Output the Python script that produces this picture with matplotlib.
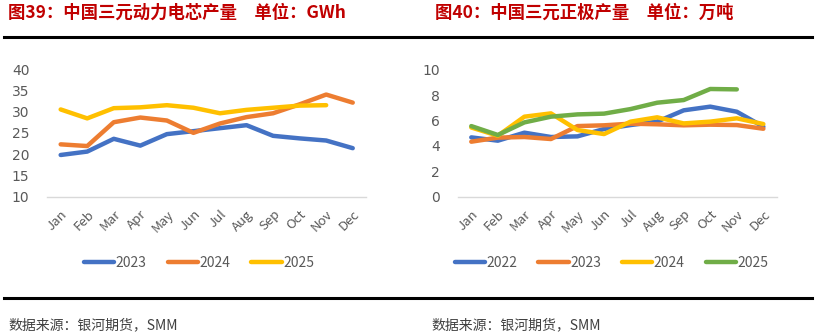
import matplotlib.pyplot as plt
from matplotlib.lines import Line2D

plt.rcParams['font.family'] = ['Noto Sans CJK SC', 'DejaVu Sans']

months = ['Jan', 'Feb', 'Mar', 'Apr', 'May', 'Jun', 'Jul', 'Aug', 'Sep', 'Oct', 'Nov', 'Dec']

# 三元动力电芯产量 (GWh)
cell_2023 = [19.8, 20.6, 23.6, 22.0, 24.7, 25.4, 26.1, 26.8, 24.3, 23.7, 23.2, 21.4]
cell_2024 = [22.3, 21.9, 27.5, 28.6, 27.9, 25.0, 27.2, 28.7, 29.6, 31.7, 34.0, 32.1]
cell_2025 = [30.5, 28.4, 30.8, 31.0, 31.5, 30.9, 29.6, 30.4, 30.9, 31.4, 31.5]

# 三元正极产量 (万吨)
cath_2022 = [4.67, 4.41, 5.04, 4.70, 4.75, 5.33, 5.64, 5.91, 6.80, 7.09, 6.69, 5.51]
cath_2023 = [4.33, 4.65, 4.70, 4.54, 5.56, 5.62, 5.75, 5.70, 5.62, 5.67, 5.64, 5.35]
cath_2024 = [5.45, 4.80, 6.30, 6.56, 5.25, 4.93, 5.91, 6.25, 5.77, 5.91, 6.17, 5.72]
cath_2025 = [5.56, 4.86, 5.85, 6.30, 6.48, 6.54, 6.90, 7.40, 7.61, 8.48, 8.45]

BLUE, ORANGE, YELLOW, GREEN = '#4472C4', '#ED7D31', '#FFC000', '#70AD47'
RED = '#C00000'
TICK = '#595959'

fig = plt.figure(figsize=(8.17, 3.36), dpi=100)


def draw_panel(ax, series, ylim, yticks):
    for label, values, color in series:
        ax.plot(range(len(values)), values, color=color, lw=3.2,
                solid_capstyle='round', solid_joinstyle='round', label=label)
    ax.set_xlim(-0.5, 11.5)
    ax.set_ylim(*ylim)
    ax.set_yticks(yticks)
    ax.set_xticks(range(12))
    ax.set_xticklabels(months, rotation=45, ha='right', va='top',
                       rotation_mode='anchor', fontsize=9.5, color=TICK)
    for s in ['top', 'right', 'left']:
        ax.spines[s].set_visible(False)
    ax.spines['bottom'].set_color('#D9D9D9')
    ax.spines['bottom'].set_linewidth(1.0)
    ax.tick_params(axis='both', length=0)
    ax.tick_params(axis='y', pad=13, labelsize=10, labelcolor=TICK)
    ax.tick_params(axis='x', pad=8)
    for t in ax.get_yticklabels():
        t.set_family('DejaVu Sans')


ax1 = fig.add_axes([0.058, 0.4146, 0.390, 0.380])
draw_panel(ax1, [('2023', cell_2023, BLUE), ('2024', cell_2024, ORANGE),
                 ('2025', cell_2025, YELLOW)],
           (10, 40), range(10, 41, 5))

ax2 = fig.add_axes([0.5606, 0.4146, 0.390, 0.378])
draw_panel(ax2, [('2022', cath_2022, BLUE), ('2023', cath_2023, ORANGE),
                 ('2024', cath_2024, YELLOW), ('2025', cath_2025, GREEN)],
           (0, 10), range(0, 11, 2))

for ax, cx in [(ax1, 0.2436), (ax2, 0.7485)]:
    h, l = ax.get_legend_handles_labels()
    fig.legend(h, l, loc='center', bbox_to_anchor=(cx, 0.217), ncol=len(l),
               frameon=False, fontsize=10, handlelength=2.2, handletextpad=0.1,
               columnspacing=1.5, labelcolor=TICK)

# titles
fig.text(0.010, 0.962, '图39：中国三元动力电芯产量　单位：GWh', color=RED,
         fontsize=12.5, fontweight='bold', va='center', ha='left')
fig.text(0.532, 0.962, '图40：中国三元正极产量　单位：万吨', color=RED,
         fontsize=12.5, fontweight='bold', va='center', ha='left')

# horizontal rules
for y in [1 - 36.5 / 336, 1 - 298 / 336]:
    fig.add_artist(Line2D([0.005, 0.994], [y, y], color='black', lw=2.2,
                          transform=fig.transFigure))

# sources
for x in [0.010, 0.528]:
    fig.text(x, 1 - 325 / 336, '数据来源：银河期货，SMM', color='#404040',
             fontsize=10, va='center', ha='left')

fig.savefig('out.png', dpi=100)
